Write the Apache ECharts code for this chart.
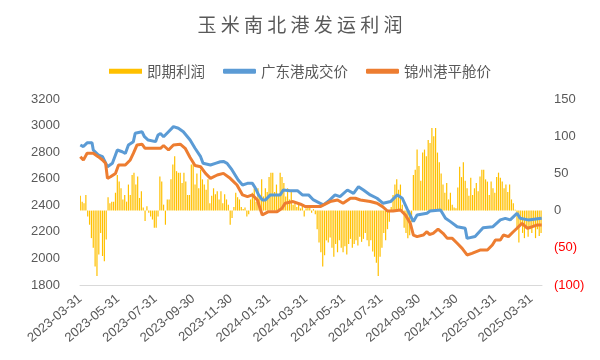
<!DOCTYPE html>
<html>
<head>
<meta charset="utf-8">
<script src="https://cdn.jsdelivr.net/npm/echarts@6/dist/echarts.min.js"></script>
<style>html,body{margin:0;padding:0;background:#fff}#c{width:600px;height:360px}</style>
</head>
<body>
<div id="c"></div>
<script>
// ---- data ----
const startDate = '2023-03-31';
const dayCount = 749;
const tickLabels = ['2023-03-31','2023-05-31','2023-07-31','2023-09-30','2023-11-30','2024-01-31','2024-03-31','2024-05-31','2024-07-31','2024-09-30','2024-11-30','2025-01-31','2025-03-31'];
const leftTicks = [1800, 3200, 200];
const rightTicks = [-100, 150, 50];

// 即期利润, one value every 3 days from startDate
const profitStepDays = 3;
const profit = [
 20,12,10,21,-8,-19,-37,-50,-75,-88,-59,-30,-61,-68,-39,18,10,12,12,24,
 48,39,30,15,21,12,35,21,48,51,35,46,17,26,4,-14,6,-3,-8,-12,
 -23,-23,-8,46,39,8,-19,15,15,42,62,73,53,51,51,37,51,39,21,21,
 62,66,35,50,30,55,42,35,28,42,10,20,30,22,26,15,26,10,22,15,
 8,-19,-10,5,24,18,15,5,2,4,-8,-5,15,24,30,12,30,20,42,19,
 30,25,45,51,51,25,35,20,51,45,37,19,30,15,25,8,12,5,10,3,
 6,-8,3,5,4,-3,2,-5,-25,-43,-56,-75,-60,-40,-43,-36,-50,-62,-45,-56,
 -40,-50,-56,-48,-59,-45,-38,-50,-45,-40,-47,-35,-42,-38,-30,-40,-48,-40,-55,-62,
 -70,-88,-62,-50,-30,-40,-25,-15,5,21,35,42,28,35,8,-23,-30,-37,-33,-15,
 48,55,82,60,40,78,82,73,95,91,111,100,111,78,65,50,35,24,37,15,
 24,8,4,3,31,59,45,65,40,30,20,44,21,30,37,26,46,55,55,42,
 39,21,39,30,24,45,51,44,39,30,35,25,35,15,10,1,-25,-43,-19,-30,
 -37,-22,-35,-25,-30,-20,-37,-25,-34,-30
];

// 广东港成交价 [day from startDate, price]
const guangdong = [
 [0,2854],[5,2842],[11,2870],[19,2870],[21,2816],[29,2779],[36,2766],[44,2690],[52,2716],[60,2816],
 [68,2803],[73,2790],[78,2854],[86,2879],[89,2942],[100,2954],[104,2916],[110,2891],[122,2879],[126,2929],
 [130,2940],[135,2916],[143,2954],[151,2992],[159,2980],[167,2954],[178,2891],[186,2829],[195,2766],[199,2716],
 [211,2703],[219,2716],[227,2728],[232,2730],[238,2716],[246,2666],[256,2590],[263,2553],[271,2565],[279,2565],
 [284,2528],[289,2478],[295,2440],[300,2440],[308,2478],[324,2478],[329,2515],[340,2510],[352,2510],[360,2478],
 [370,2478],[378,2440],[389,2415],[394,2403],[402,2430],[413,2478],[421,2465],[433,2515],[443,2490],[451,2540],
 [459,2515],[470,2478],[481,2453],[491,2415],[503,2428],[514,2478],[522,2453],[530,2371],[540,2277],[546,2327],
 [562,2340],[567,2357],[584,2365],[592,2302],[600,2277],[611,2239],[624,2227],[627,2151],[640,2165],[653,2231],
 [669,2239],[681,2290],[689,2302],[697,2290],[708,2340],[713,2302],[726,2290],[748,2302]
];

// 锦州港平舱价 [day from startDate, price]
const jinzhou = [
 [0,2766],[5,2740],[11,2792],[21,2792],[29,2766],[36,2741],[41,2716],[44,2603],[49,2615],[57,2640],
 [62,2703],[73,2703],[81,2741],[86,2790],[92,2854],[100,2860],[105,2829],[130,2829],[135,2850],[143,2816],
 [151,2854],[162,2860],[170,2829],[178,2760],[186,2700],[195,2690],[203,2640],[211,2603],[222,2628],[232,2640],
 [243,2603],[254,2553],[263,2478],[271,2465],[279,2478],[287,2440],[295,2327],[305,2352],[319,2352],[327,2377],
 [332,2415],[345,2428],[357,2408],[365,2390],[389,2390],[405,2428],[417,2440],[426,2415],[438,2453],[446,2453],
 [454,2440],[470,2428],[481,2415],[490,2390],[498,2357],[507,2357],[519,2365],[527,2327],[535,2264],[540,2176],
 [546,2164],[556,2176],[562,2201],[566,2180],[572,2189],[580,2221],[588,2189],[595,2151],[603,2151],[611,2114],
 [619,2076],[627,2026],[635,2038],[648,2063],[660,2063],[668,2101],[673,2139],[681,2139],[686,2176],[694,2164],
 [702,2201],[708,2227],[716,2264],[725,2227],[733,2239],[741,2252],[748,2252]
];

// ---- build ----
const t0 = Date.parse(startDate + 'T00:00:00Z');
const days = [];
for (let i = 0; i < dayCount; i++) days.push(new Date(t0 + i * 86400000).toISOString().slice(0, 10));
const profitData = profit.map((v, i) => [i * profitStepDays, v]);

const FONT = 'Liberation Sans, Noto Sans CJK SC, sans-serif';
const chart = echarts.init(document.getElementById('c'), null, {renderer: 'canvas'});
chart.setOption({
  animation: false,
  title: {
    text: '玉 米 南 北 港 发 运 利 润',
    left: 'center', top: 10,
    textStyle: {fontFamily: 'Noto Sans CJK SC', fontSize: 19, fontWeight: 'normal', color: '#595959'}
  },
  legend: {
    top: 59, left: 'center', itemWidth: 33, itemHeight: 5, itemGap: 18,
    textStyle: {fontFamily: 'Noto Sans CJK SC', fontSize: 14.5, color: '#595959'},
    data: [
      {name: '即期利润', icon: 'rect'},
      {name: '广东港成交价', icon: 'roundRect'},
      {name: '锦州港平舱价', icon: 'roundRect'}
    ]
  },
  grid: {left: 80, right: 58, top: 99, bottom: 75},
  xAxis: {
    type: 'category', data: days, boundaryGap: true,
    axisLine: {onZero: false, lineStyle: {color: '#d9d9d9', width: 1}},
    axisTick: {show: false},
    axisLabel: {
      rotate: 40, interval: (idx, val) => tickLabels.includes(val),
      fontFamily: FONT, fontSize: 13, color: '#595959', margin: 12
    }
  },
  yAxis: [
    {
      type: 'value', min: leftTicks[0], max: leftTicks[1], interval: leftTicks[2],
      splitLine: {show: false}, axisLine: {show: false}, axisTick: {show: false},
      axisLabel: {fontFamily: FONT, fontSize: 13, color: '#595959', margin: 20, formatter: v => String(v)}
    },
    {
      type: 'value', min: rightTicks[0], max: rightTicks[1], interval: rightTicks[2],
      splitLine: {show: false}, axisLine: {show: false}, axisTick: {show: false},
      axisLabel: {
        fontFamily: FONT, fontSize: 13, margin: 12,
        formatter: v => v < 0 ? '(' + (-v) + ')' : String(v),
        color: v => (Number(v) < 0 ? '#ff0000' : '#595959')
      }
    }
  ],
  series: [
    {
      name: '即期利润', type: 'bar', yAxisIndex: 1, data: profitData,
      barWidth: 1.2, itemStyle: {color: '#FFC000'}, z: 1
    },
    {
      name: '广东港成交价', type: 'line', yAxisIndex: 0, data: guangdong,
      symbol: 'none', lineStyle: {color: '#5B9BD5', width: 3}, itemStyle: {color: '#5B9BD5'}, z: 3
    },
    {
      name: '锦州港平舱价', type: 'line', yAxisIndex: 0, data: jinzhou,
      symbol: 'none', lineStyle: {color: '#ED7D31', width: 3}, itemStyle: {color: '#ED7D31'}, z: 4
    }
  ]
});
</script>
</body>
</html>
